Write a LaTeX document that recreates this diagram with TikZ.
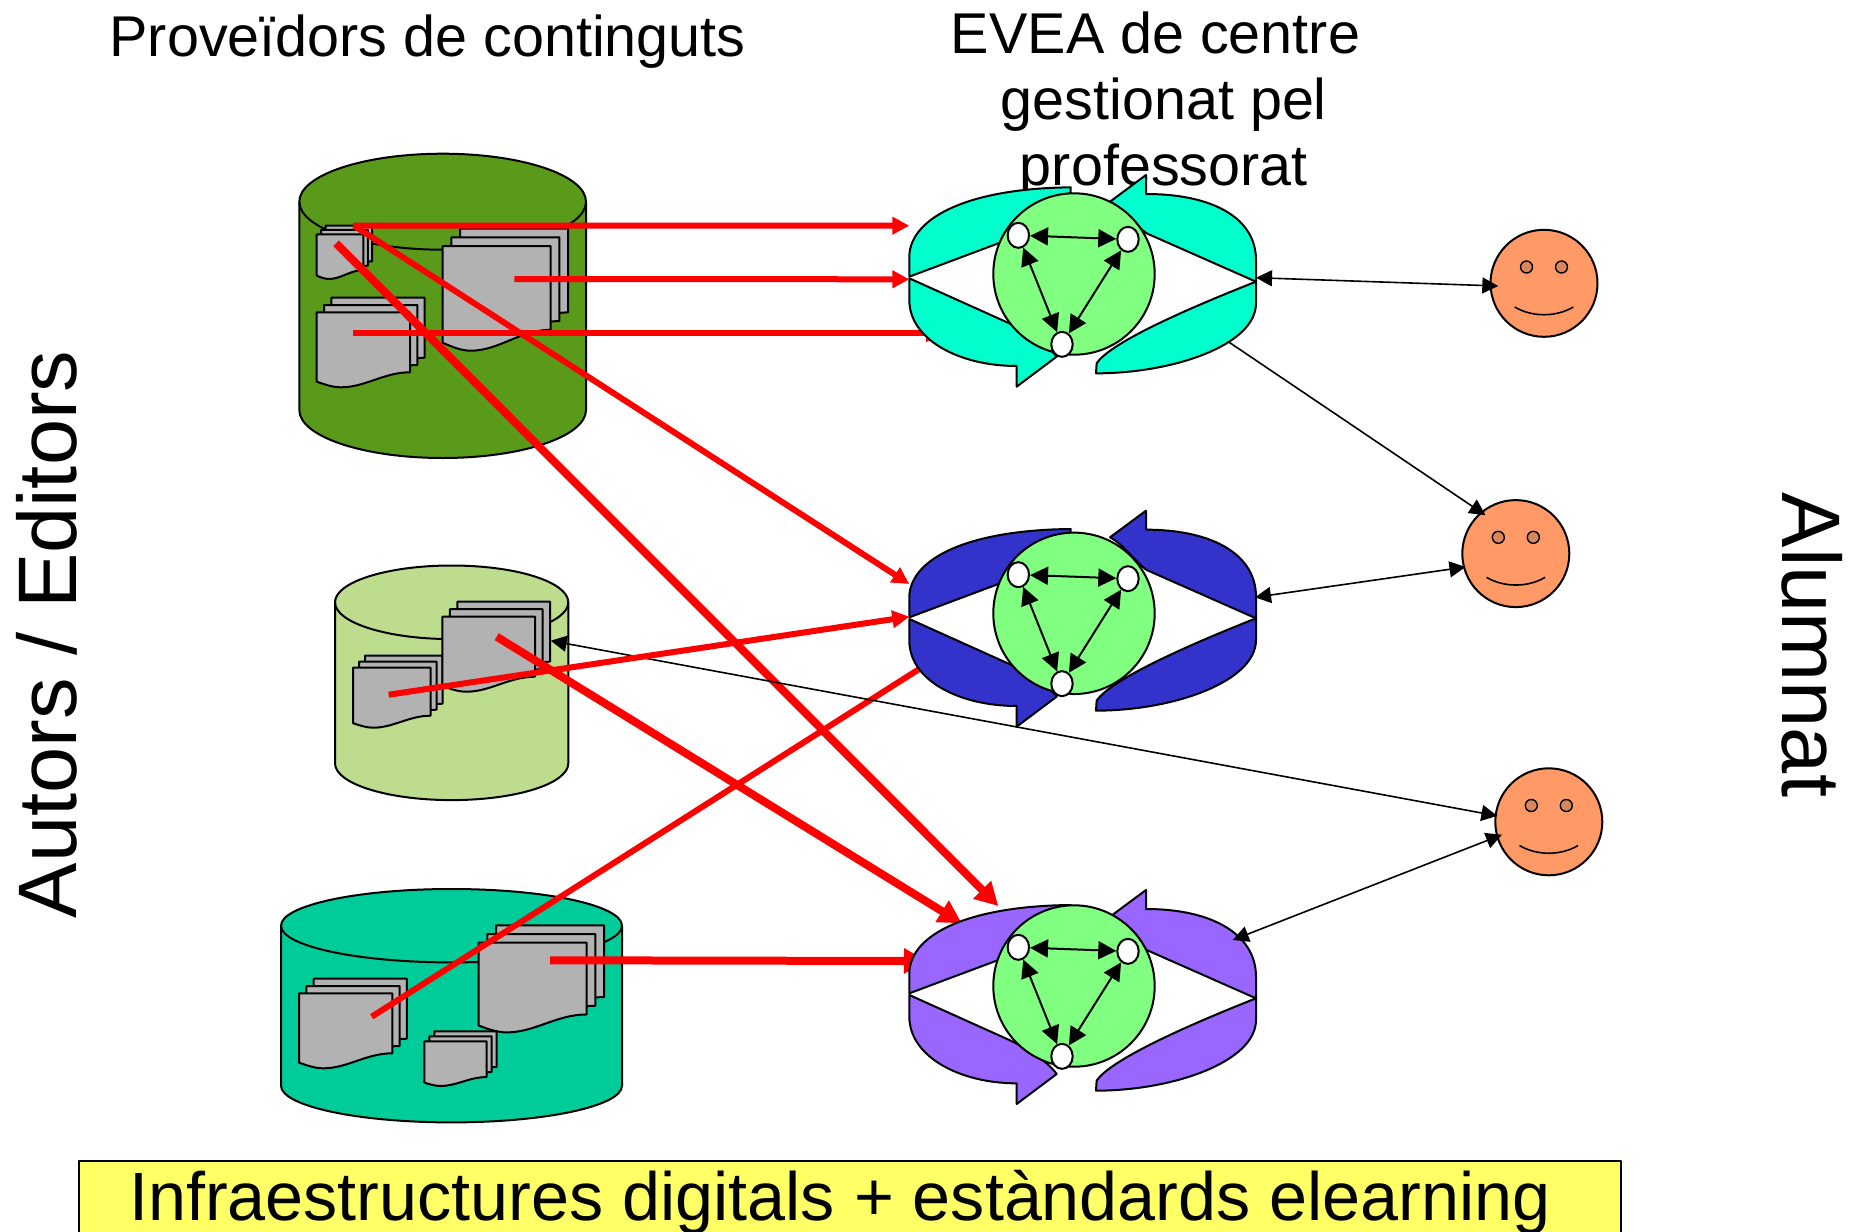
\documentclass[tikz,border=0pt]{standalone}
\usepackage{fontspec}
\setmainfont{Liberation Sans}
\usetikzlibrary{arrows.meta,shapes.geometric}
\definecolor{sa}{HTML}{00FFCC}
\definecolor{sb}{HTML}{3333CC}
\definecolor{sc}{HTML}{9966FF}
\definecolor{ballgreen}{HTML}{80FF80}
\definecolor{cyla}{HTML}{5A9A1A}
\definecolor{cylb}{HTML}{BDDC8D}
\definecolor{cylc}{HTML}{00CC99}
\definecolor{sheet}{HTML}{B2B2B2}
\definecolor{face}{HTML}{FF9966}
\definecolor{eye}{HTML}{D7875A}
\definecolor{barfill}{HTML}{FFFF66}
\tikzset{
  outline/.style={draw=black,line width=1pt,line join=round},
  headline/.style={font=\fontsize{28.75}{30}\selectfont,anchor=base,inner sep=0pt},
  sideline/.style={font=\fontsize{41.5}{44}\selectfont,anchor=base,inner sep=0pt},
  barline/.style={font=\fontsize{34.15}{40}\selectfont,anchor=base,inner sep=0pt},
  ball/.style={circle,outline,fill=ballgreen,minimum size=80.7pt,inner sep=0pt},
  spot/.style={ellipse,outline,fill=white,minimum width=10.7pt,minimum height=12.5pt,inner sep=0pt},
  inner link/.style={line width=1pt,{Triangle[length=9pt,width=9pt]}-{Triangle[length=9pt,width=9pt]}},
  facecirc/.style={circle,outline,fill=face,minimum size=53.5pt,inner sep=0pt},
  eyecirc/.style={circle,line width=0.7pt,draw=black,fill=eye,minimum size=6pt,inner sep=0pt},
  thin red/.style={draw=red,line width=3pt,-{Triangle[length=8.5pt,width=8.5pt]}},
  thick red/.style={draw=red,line width=4pt,-{Triangle[length=11.5pt,width=12pt]}},
  blk both/.style={draw=black,line width=0.8pt,{Triangle[length=8pt,width=8pt]}-{Triangle[length=8pt,width=8pt]}},
  blk one/.style={draw=black,line width=0.8pt,-{Triangle[length=8pt,width=8pt]}},
}
% colour/name, crop y, L, top end, barb TR, R, barb BL, end BR, circle y
\newcommand{\swirlset}[9]{%
  \begin{scope}[shift={(880,#2)},xscale=0.33333,yscale=0.33333]
    \path[outline,fill=#1] (88,#3) -- (88,#3-65) .. controls (95,#3-180) and (270,#4+3) .. (572,#4) -- (572,#4+16)
       .. controls (480,#4+60) and (420,#3-125) .. (355,#3-100) -- cycle;
    \path[outline,fill=#1] (798,#5) -- (798,#5+57) .. controls (1000,#5+57) and (1128,#6-190) .. (1128,#6-65) -- (1128,#6)
       -- (800,#6-145) .. controls (770,#6-165) and (730,#5+100) .. (690,#5+80) -- cycle;
    \path[outline,fill=#1] (88,#3+5) -- (88,#3+70) .. controls (88,#3+190) and (240,#7-62) .. (410,#7-62) -- (410,#7)
       -- (530,#7-90) .. controls (500,#3+200) and (430,#3+160) .. (388,#3+140) -- cycle;
    \path[outline,fill=#1] (1128,#6) -- (1128,#6+65) .. controls (1128,#6+190) and (880,#8) .. (648,#8) -- (650,#8-30)
       .. controls (690,#8-90) and (900,#6+90) .. (1128,#6) -- cycle;
    \node[ball] (#1ball) at (582,#9) {};
    \node[spot] (#1p) at (415,#9-116) {};
    \node[spot] (#1q) at (744,#9-104) {};
    \node[spot] (#1r) at (546,#9+211) {};
    \draw[inner link] (#1p) -- (#1q);
    \draw[inner link] (#1p) -- (#1r);
    \draw[inner link] (#1q) -- (#1r);
  \end{scope}}
% x, y, w, h, offset
\newcommand{\docstack}[5]{%
  \foreach \k in {2,1,0}{
    \begin{scope}[shift={({#1+\k*#5},{#2-\k*#5})},xscale=#3,yscale=#4]
      \path[outline,fill=sheet] (0,0) -- (1,0) -- (1,0.8)
        .. controls (0.72,0.8) and (0.52,1) .. (0.26,1)
        .. controls (0.17,1) and (0.08,0.96) .. (0,0.924) -- cycle;
    \end{scope}}}
% left, right, ellipse centre y, side bottom y, ry, colour
\newcommand{\drum}[6]{%
  \path[outline,fill=#6] (#1,#3) -- (#1,#4)
     arc[start angle=180,end angle=0,x radius={(#2-#1)/2},y radius=#5] -- (#2,#3)
     arc[start angle=0,end angle=-180,x radius={(#2-#1)/2},y radius=#5] -- cycle;
  \draw[outline] (#1,#3) arc[start angle=180,end angle=0,x radius={(#2-#1)/2},y radius=#5];}
% centre x, y, name
\newcommand{\smiley}[3]{%
  \node[facecirc] (#3) at (#1,#2) {};
  \node[eyecirc] (#3l) at (#1-17.5,#2-16.3) {};
  \node[eyecirc] (#3r) at (#1+17.5,#2-16.3) {};
  \draw[line width=0.8pt] (#1-29.3,#2+23.7) .. controls (#1-12,#2+34) and (#1+12,#2+34) .. (#1+29.3,#2+23.7);}
\begin{document}
\begin{tikzpicture}[x=0.5pt,y=-0.5pt]
\useasboundingbox (0,0) rectangle (1849,1232);
% titles
\node[headline] (tprov) at (427.6,56.6) {Proveïdors de continguts};
\node[headline] (tevea) at (1155.5,53.4) {EVEA de centre};
\node[headline] (tgest) at (1163.8,119.3) {gestionat pel};
\node[headline] (tprof) at (1163.8,185) {professorat};
\node[sideline,rotate=90] (tauth) at (76.6,634.3) {Autors / Editors};
\node[sideline,rotate=-90] (talum) at (1782.5,645) {Alumnat};
% drums and documents
\drum{299.3}{586}{201.7}{410}{48}{cyla}
\docstack{316.7}{234.3}{46.7}{44.7}{4.4}
\docstack{442.7}{246}{108}{104.7}{8.7}
\docstack{316.7}{312.3}{93.3}{75}{7.3}
\drum{335}{568.3}{602.3}{763.3}{36.8}{cylb}
\docstack{353}{667.7}{77.7}{60}{6}
\docstack{442.3}{616.7}{92.7}{75}{7.5}
\drum{281}{622}{925.7}{1085.7}{36.7}{cylc}
\docstack{299}{993.3}{93.3}{75}{7.3}
\docstack{478.7}{942.7}{108}{89.7}{8.7}
\docstack{424.3}{1041.3}{62.3}{44.7}{5}
% connector ends
\coordinate (r1s) at (353,225.5);   \coordinate (r1e) at (909.3,225.7);
\coordinate (r2s) at (514.3,279);   \coordinate (r2e) at (909.3,279.3);
\coordinate (r3s) at (353.3,333);   \coordinate (r3e) at (943,333);
\coordinate (r4s) at (354,225.7);   \coordinate (r4e) at (909.3,584);
\coordinate (r5s) at (336,243.3);   \coordinate (r5e) at (998.3,906);
\coordinate (r6s) at (388.7,694.7); \coordinate (r6e) at (909.3,616.7);
\coordinate (r7s) at (496.7,636.7); \coordinate (r7e) at (961.7,923.3);
\coordinate (r8s) at (371.7,1016.7);\coordinate (r8e) at (935,659);
\coordinate (r9s) at (550,960.3);   \coordinate (r9e) at (927,961);
\coordinate (kas) at (1256,277.7);  \coordinate (kae) at (1498.3,286);
\coordinate (kbs) at (1228.3,341.7);\coordinate (kbe) at (1485.5,515.2);
\coordinate (kcs) at (1255,597.3);  \coordinate (kce) at (1465.5,567);
\coordinate (kds) at (550.7,640.7); \coordinate (kde) at (1497.4,815.9);
\coordinate (kes) at (1232.7,940);  \coordinate (kee) at (1502,834.7);
% links that run beneath the swirls
\draw[thin red] (r3s) -- (r3e);
\draw[draw=red,line width=3pt] (r8s) -- (r8e);
\draw[thick red] (r5s) -- (r5e);
\draw[thick red] (r7s) -- (r7e);
\draw[thick red] (r9s) -- (r9e);
% swirls
\swirlset{sa}{160}{350}{82}{45}{365}{680}{640}{342}
\swirlset{sb}{500}{352}{87}{32}{355}{680}{632}{340}
\swirlset{sc}{880}{340}{75}{30}{355}{672}{632}{318}
% faces
\smiley{1544}{283.3}{facea}
\smiley{1515.8}{553.6}{faceb}
\smiley{1548.8}{821.8}{facec}
% links on top
\draw[blk both] (kas) -- (kae);
\draw[blk one] (kbs) -- (kbe);
\draw[blk both] (kcs) -- (kce);
\draw[blk both] (kds) -- (kde);
\draw[blk both] (kes) -- (kee);
\draw[thin red] (r1s) -- (r1e);
\draw[thin red] (r2s) -- (r2e);
\draw[thin red] (r4s) -- (r4e);
\draw[thin red] (r6s) -- (r6e);
% bar
\path[outline,fill=barfill] (79,1161) rectangle (1621,1240);
\node[barline] (tbar) at (840,1220) {Infraestructures digitals + estàndards elearning};
\end{tikzpicture}
\end{document}
